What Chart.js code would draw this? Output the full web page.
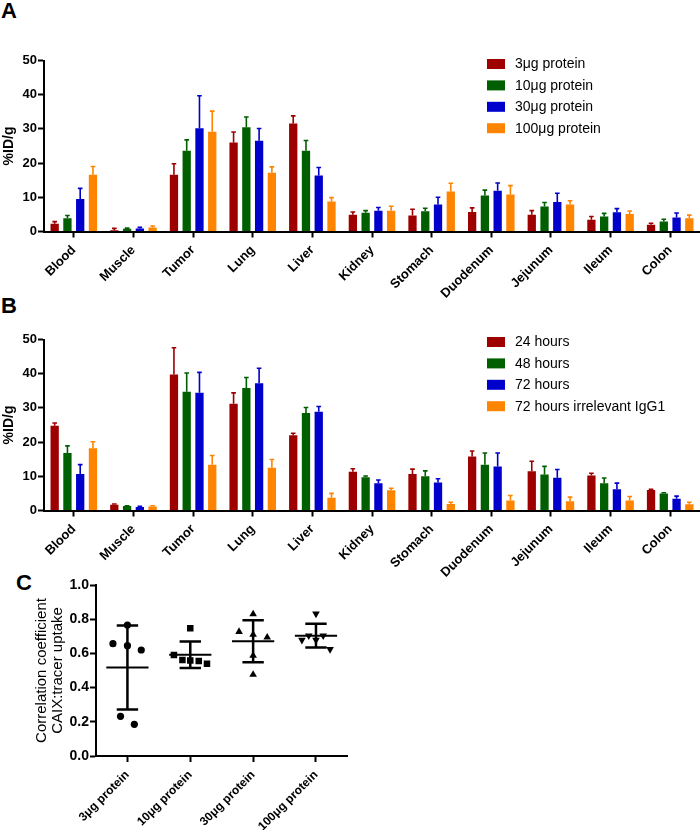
<!DOCTYPE html>
<html>
<head>
<meta charset="utf-8">
<script src="https://cdn.jsdelivr.net/npm/chart.js@4.4.1/dist/chart.umd.min.js"></script>
<style>
  html, body { margin: 0; padding: 0; background: #fff; }
  #wrap { position: relative; width: 700px; height: 830px; overflow: hidden; background: #fff; }
  canvas { position: absolute; }
  .plabel { position: absolute; font-family: 'Liberation Sans', Arial, sans-serif; font-weight: bold; font-size: 22px; line-height: 22px; color: #000; }
</style>
</head>
<body>
<div id="wrap">
  <div class="plabel" style="left:1px; top:0px;">A</div>
  <div class="plabel" style="left:1px; top:295px;">B</div>
  <div class="plabel" style="left:16px; top:572px;">C</div>
  <canvas id="chartA" width="700" height="300" style="left:0; top:0;"></canvas>
  <canvas id="chartB" width="700" height="300" style="left:0; top:279px;"></canvas>
  <canvas id="chartC" width="352" height="270" style="left:0; top:560px;"></canvas>
</div>
<script>
// ---------- DATA ----------
const organs = ['Blood', 'Muscle', 'Tumor', 'Lung', 'Liver', 'Kidney', 'Stomach', 'Duodenum', 'Jejunum', 'Ileum', 'Colon'];
const yTicksAB = [0, 10, 20, 30, 40, 50];

// Panel A: dose groups
const seriesA = ['3\u03bcg protein', '10\u03bcg protein', '30\u03bcg protein', '100\u03bcg protein'];
const a3ug     = [2.3, 0.4, 16.6, 26.0, 31.6, 4.9, 4.7, 5.7, 4.9, 3.4, 2.0];
const a3ugErr  = [0.6, 0.5, 3.2, 3.1, 2.2, 0.8, 1.8, 1.2, 1.2, 1.0, 0.4];
const a10ug    = [3.9, 0.8, 23.6, 30.5, 23.6, 5.5, 5.9, 10.5, 7.3, 4.4, 2.9];
const a10ugErr = [0.8, 0.2, 3.2, 3.0, 3.0, 0.6, 0.9, 1.6, 1.2, 0.9, 0.7];
const a30ug    = [9.5, 0.9, 30.2, 26.5, 16.4, 6.1, 7.9, 11.9, 8.6, 5.6, 4.1];
const a30ugErr = [3.1, 0.3, 9.5, 3.6, 2.3, 0.9, 2.1, 2.3, 2.6, 1.1, 1.3];
const a100ug    = [16.6, 1.2, 29.2, 17.2, 8.8, 6.1, 11.7, 10.8, 7.9, 5.1, 3.9];
const a100ugErr = [2.4, 0.4, 6.0, 1.7, 1.1, 1.3, 2.4, 2.6, 1.1, 0.9, 0.9];

// Panel B: time points
const seriesB = ['24 hours', '48 hours', '72 hours', '72 hours irrelevant IgG1'];
const b24h     = [24.8, 1.7, 39.8, 31.2, 22.0, 11.3, 10.7, 15.8, 11.5, 10.2, 6.0];
const b24hErr  = [0.8, 0.2, 7.8, 3.2, 0.6, 0.9, 1.4, 1.6, 2.9, 0.7, 0.2];
const b48h     = [16.8, 1.3, 34.7, 35.8, 28.5, 9.7, 10.0, 13.4, 10.5, 8.0, 5.0];
const b48hErr  = [2.1, 0.1, 5.5, 3.1, 1.6, 0.4, 1.6, 3.4, 2.4, 1.5, 0.2];
const b72h     = [10.7, 1.0, 34.4, 37.2, 28.9, 8.0, 8.2, 12.9, 9.6, 6.2, 3.4];
const b72hErr  = [2.7, 0.2, 6.0, 4.4, 1.5, 0.9, 1.1, 3.9, 2.4, 1.8, 0.8];
const b72hIgG    = [18.2, 1.2, 13.4, 12.5, 3.7, 5.9, 1.9, 2.9, 2.7, 2.9, 1.8];
const b72hIgGErr = [1.9, 0.2, 2.7, 2.4, 1.3, 0.6, 0.5, 1.5, 1.2, 1.2, 0.6];

// Panel C: correlation coefficients (individual animals)
const doseGroupsC = ['3\u03bcg protein', '10\u03bcg protein', '30\u03bcg protein', '100\u03bcg protein'];
const yTicksC = [0, 0.2, 0.4, 0.6, 0.8, 1.0];
const c3ug   = [0.766, 0.657, 0.645, 0.620, 0.232, 0.185];
const c10ug  = [0.747, 0.591, 0.561, 0.558, 0.556, 0.540];
const c30ug  = [0.830, 0.727, 0.710, 0.694, 0.587, 0.476];
const c100ug = [0.832, 0.678, 0.704, 0.704, 0.678, 0.624];
// horizontal scatter spread (category units) of the individual points
const c3ugSpread   = [0, -0.23, 0, 0.22, -0.11, 0.11];
const c10ugSpread  = [0, -0.26, -0.125, 0, 0.135, 0.266];
const c30ugSpread  = [0, -0.224, 0, 0.224, 0, 0];
const c100ugSpread = [0, -0.224, -0.115, 0.115, 0, 0.224];

// ---------- STYLE ----------
const FONT = "'Liberation Sans', Arial, Helvetica, sans-serif";
const COLORS = ['#9E0000', '#005F00', '#0000CC', '#FF8400'];

const errorBarPlugin = {
  id: 'errorBars',
  afterDatasetsDraw(chart) {
    const ctx = chart.ctx;
    const ys = chart.scales.y;
    chart.data.datasets.forEach((ds, di) => {
      const meta = chart.getDatasetMeta(di);
      meta.data.forEach((bar, i) => {
        const v = ds.data[i], e = ds.errors[i];
        const top = ys.getPixelForValue(v + e);
        const w = bar.width * 0.28;
        ctx.save();
        ctx.strokeStyle = ds.backgroundColor;
        ctx.lineWidth = 1.6;
        ctx.beginPath();
        ctx.moveTo(bar.x, bar.y);
        ctx.lineTo(bar.x, top);
        ctx.moveTo(bar.x - w, top);
        ctx.lineTo(bar.x + w, top);
        ctx.stroke();
        ctx.restore();
      });
    });
  }
};

const boxLegendPlugin = {
  id: 'boxLegend',
  afterDraw(chart, args, opts) {
    const ctx = chart.ctx;
    ctx.save();
    ctx.font = '14px ' + FONT;
    ctx.textBaseline = 'middle';
    ctx.textAlign = 'left';
    chart.data.datasets.forEach((ds, i) => {
      const y = opts.y0 + i * opts.dy;
      ctx.fillStyle = ds.backgroundColor;
      ctx.fillRect(opts.x, y - 5, 18, 10);
      ctx.fillStyle = '#000';
      ctx.fillText(ds.label, opts.x + 28, y + 0.5);
    });
    ctx.restore();
  }
};

function axisCommon() {
  return {
    grid: { display: true, drawOnChartArea: false, drawTicks: true, tickLength: 6, tickWidth: 2, tickColor: '#000', offset: false },
    border: { display: true, color: '#000', width: 2 }
  };
}

function makeBarChart(id, labels, names, values, errors, legendY0) {
  const datasets = names.map((n, i) => ({
    label: n,
    data: values[i],
    errors: errors[i],
    backgroundColor: COLORS[i],
    borderWidth: 0,
    barPercentage: 0.65,
    categoryPercentage: 0.856
  }));
  return new Chart(document.getElementById(id), {
    type: 'bar',
    data: { labels, datasets },
    options: {
      responsive: false,
      animation: false,
      devicePixelRatio: 1,
      layout: { padding: { top: 60.5, right: 0, left: 0, bottom: 0 } },
      plugins: {
        legend: { display: false },
        tooltip: { enabled: false },
        boxLegend: { x: 487, y0: legendY0, dy: 21.4 }
      },
      scales: {
        x: Object.assign(axisCommon(), {
          ticks: { color: '#000', font: { family: FONT, size: 13, weight: 'bold' }, maxRotation: 45, minRotation: 45, autoSkip: false, padding: 5 },
          afterFit(s) { s.height = 68.5; }
        }),
        y: Object.assign(axisCommon(), {
          min: 0, max: 50,
          afterBuildTicks(s) { s.ticks = yTicksAB.map(v => ({ value: v })); },
          ticks: { color: '#000', font: { family: FONT, size: 13, weight: 'bold' }, padding: 1 },
          title: { display: true, text: '%ID/g', color: '#000', font: { family: FONT, size: 14, weight: 'bold' }, padding: { top: 1, bottom: 0 } },
          afterFit(s) { s.width = 44; }
        })
      }
    },
    plugins: [errorBarPlugin, boxLegendPlugin]
  });
}

makeBarChart('chartA', organs, seriesA,
  [a3ug, a10ug, a30ug, a100ug], [a3ugErr, a10ugErr, a30ugErr, a100ugErr], 64);
makeBarChart('chartB', organs, seriesB,
  [b24h, b48h, b72h, b72hIgG], [b24hErr, b48hErr, b72hErr, b72hIgGErr], 63);

// ---------- PANEL C ----------
const groupsC = [c3ug, c10ug, c30ug, c100ug];
const spreadsC = [c3ugSpread, c10ugSpread, c30ugSpread, c100ugSpread];
const stylesC = [
  { pointStyle: 'circle', radius: 3.6, rotation: 0 },
  { pointStyle: 'rect', radius: 4.6, rotation: 0 },
  { pointStyle: 'triangle', radius: 4.4, rotation: 0 },
  { pointStyle: 'triangle', radius: 4.4, rotation: 180 }
];

const meanSdPlugin = {
  id: 'meanSd',
  afterDatasetsDraw(chart) {
    const ctx = chart.ctx;
    const xs = chart.scales.x, ys = chart.scales.y;
    groupsC.forEach((vals, g) => {
      const n = vals.length;
      const mean = vals.reduce((a, b) => a + b, 0) / n;
      const sd = Math.sqrt(vals.reduce((a, b) => a + (b - mean) * (b - mean), 0) / (n - 1));
      const yM = ys.getPixelForValue(mean);
      const yH = ys.getPixelForValue(mean + sd);
      const yL = ys.getPixelForValue(mean - sd);
      const xc = xs.getPixelForValue(g);
      const xm0 = xs.getPixelForValue(g - 0.336), xm1 = xs.getPixelForValue(g + 0.336);
      const xc0 = xs.getPixelForValue(g - 0.17), xc1 = xs.getPixelForValue(g + 0.17);
      ctx.save();
      ctx.strokeStyle = '#000';
      ctx.lineWidth = 2;
      ctx.beginPath();
      ctx.moveTo(xm0, yM); ctx.lineTo(xm1, yM);
      ctx.stroke();
      ctx.lineWidth = 2.5;
      ctx.beginPath();
      ctx.moveTo(xc, yH); ctx.lineTo(xc, yL);
      ctx.moveTo(xc0, yH); ctx.lineTo(xc1, yH);
      ctx.moveTo(xc0, yL); ctx.lineTo(xc1, yL);
      ctx.stroke();
      ctx.restore();
    });
  }
};

new Chart(document.getElementById('chartC'), {
  type: 'scatter',
  data: {
    datasets: groupsC.map((vals, g) => ({
      label: doseGroupsC[g],
      data: vals.map((v, i) => ({ x: g + spreadsC[g][i], y: v })),
      pointStyle: stylesC[g].pointStyle,
      pointRadius: stylesC[g].radius,
      pointRotation: stylesC[g].rotation,
      backgroundColor: '#000',
      borderColor: '#000',
      borderWidth: 0
    }))
  },
  options: {
    responsive: false,
    animation: false,
    devicePixelRatio: 1,
    layout: { padding: { top: 25, right: 0, left: 0, bottom: 0 } },
    plugins: { legend: { display: false }, tooltip: { enabled: false } },
    scales: {
      x: Object.assign(axisCommon(), {
        type: 'linear', min: -0.5, max: 3.5,
        afterBuildTicks(s) { s.ticks = doseGroupsC.map((_, i) => ({ value: i })); },
        ticks: { color: '#000', font: { family: FONT, size: 12, weight: 'bold' }, maxRotation: 45, minRotation: 45, padding: 6,
                 callback: (v) => doseGroupsC[v] },
        afterFit(s) { s.height = 74; }
      }),
      y: Object.assign(axisCommon(), {
        min: 0, max: 1,
        afterBuildTicks(s) { s.ticks = yTicksC.map(v => ({ value: v })); },
        ticks: { color: '#000', font: { family: FONT, size: 14, weight: 'bold' }, padding: 1, callback: (v) => Number(v).toFixed(1) },
        title: { display: true, text: ['Correlation coefficient', 'CAIX:tracer uptake'], color: '#000',
                 font: { family: FONT, size: 15, weight: 'normal', lineHeight: 1.07 }, padding: { top: 34, bottom: 0 } },
        afterFit(s) { s.width = 96; }
      })
    }
  },
  plugins: [meanSdPlugin]
});
</script>
</body>
</html>
